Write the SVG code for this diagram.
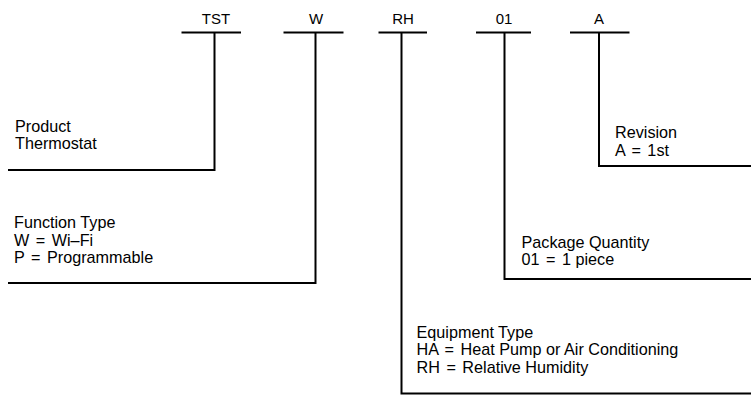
<svg xmlns="http://www.w3.org/2000/svg" width="751" height="396" viewBox="0 0 751 396">
<style>
.t{font-family:"Liberation Sans",Arial,Helvetica,sans-serif;font-size:16.2px;fill:#000}
.c{text-anchor:middle;font-size:15px}
.ln{stroke:#000;stroke-width:2;fill:none}
</style>
<rect width="751" height="396" fill="#fff"/>
<g id="connectors">
<path class="ln" d="M181.5 32.5H241M214.5 32.5V170H8"/>
<path class="ln" d="M283.5 32.5H343.5M315.5 32.5V283H8"/>
<path class="ln" d="M378.5 32.5H427M401.5 32.5V393.5H751"/>
<path class="ln" d="M476 32.5H531M504.5 32.5V279H751"/>
<path class="ln" d="M570 32.5H629.5M599 32.5V166H751"/>
</g>
<g id="code">
<text class="t c" x="216" y="24">TST</text>
<text class="t c" x="316" y="24">W</text>
<text class="t c" x="403" y="24">RH</text>
<text class="t c" x="504" y="24">01</text>
<text class="t c" x="599" y="24">A</text>
</g>
<g id="product">
<text class="t" x="15" y="132">Product</text>
<text class="t" x="15" y="149">Thermostat</text>
</g>
<g id="function">
<text class="t" x="14" y="228">Function Type</text>
<text class="t" x="14" y="245.5">W <tspan dx="2">=</tspan><tspan dx="2"> Wi–Fi</tspan></text>
<text class="t" x="14" y="263">P <tspan dx="2">=</tspan><tspan dx="2"> Programmable</tspan></text>
</g>
<g id="equipment">
<text class="t" x="416.5" y="337.5">Equipment Type</text>
<text class="t" x="416.5" y="355">HA <tspan dx="2">=</tspan><tspan dx="2"> Heat Pump or Air Conditioning</tspan></text>
<text class="t" x="416.5" y="372.5">RH <tspan dx="2">=</tspan><tspan dx="2"> Relative Humidity</tspan></text>
</g>
<g id="package">
<text class="t" x="521.5" y="247.5">Package Quantity</text>
<text class="t" x="521.5" y="265">01 <tspan dx="2">=</tspan><tspan dx="2"> 1 piece</tspan></text>
</g>
<g id="revision">
<text class="t" x="615" y="138">Revision</text>
<text class="t" x="615" y="155.5">A <tspan dx="2">=</tspan><tspan dx="2"> 1st</tspan></text>
</g>
</svg>
